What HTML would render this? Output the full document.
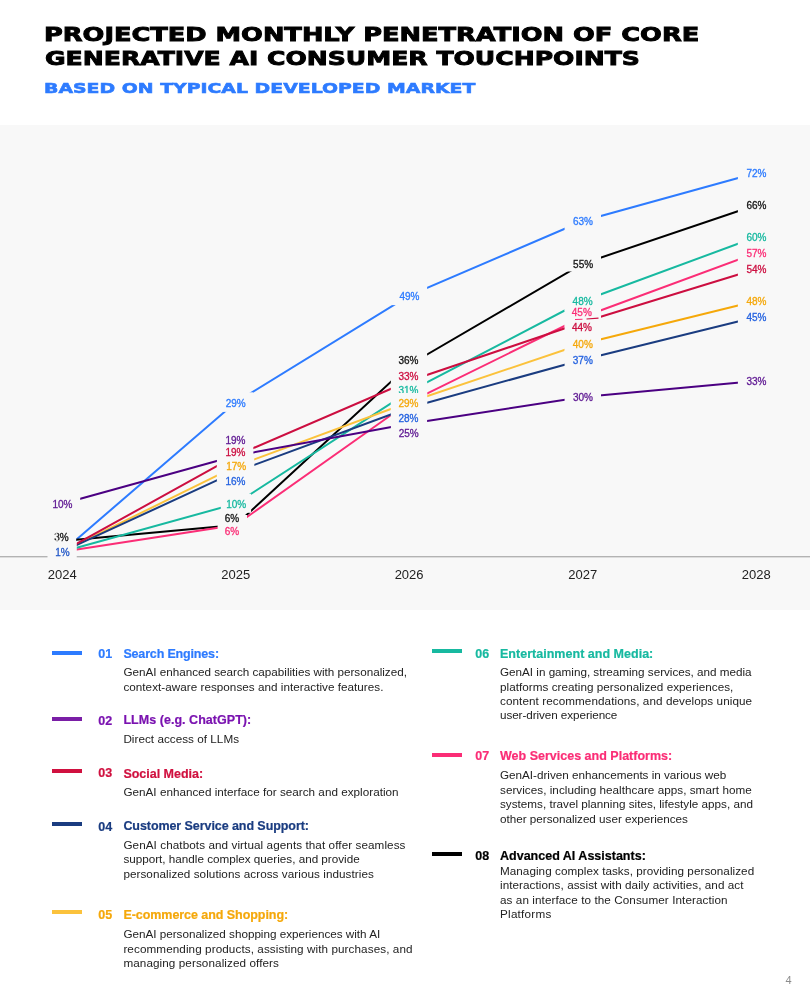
<!DOCTYPE html>
<html lang="en"><head><meta charset="utf-8"><title>Projected monthly penetration of core generative AI consumer touchpoints</title>
<style>
html,body{margin:0;padding:0;background:#fff}
body{width:810px;height:988px;position:relative;overflow:hidden;font-family:"Liberation Sans",sans-serif;color:#222}
.h1{position:absolute;left:46px;font-family:"DejaVu Sans","Liberation Sans",sans-serif;font-weight:bold;font-size:20px;line-height:24px;color:#000;-webkit-text-stroke:0.9px #000;white-space:nowrap;transform-origin:0 50%;margin:0}
.h2{position:absolute;left:46px;font-family:"DejaVu Sans","Liberation Sans",sans-serif;font-weight:bold;font-size:14.7px;line-height:18px;color:#2d7bff;-webkit-text-stroke:0.6px #2d7bff;white-space:nowrap;transform-origin:0 50%;margin:0}
.chart{position:absolute;left:0;top:125px}
.lbl text{font-family:"Liberation Sans",sans-serif;font-size:10px;stroke-width:0.3px;paint-order:stroke}
.yr text{font-family:"Liberation Sans",sans-serif;font-size:13px;fill:#222}
.bar{position:absolute;width:30px;height:4px}
.num,.ttl{position:absolute;font-weight:bold;font-size:12.5px;line-height:16px;white-space:nowrap;letter-spacing:-0.05px;-webkit-text-stroke:0.2px}
.dsc{position:absolute;font-size:11.7px;line-height:14px;white-space:nowrap;color:#222}
.pg{position:absolute;left:785.6px;top:973px;font-size:11px;line-height:14px;color:#8c8c8c}
</style></head><body>
<div class="h1" id="t1" style="left:43.6px;top:23px;transform:translateY(-0.55px) scaleX(1.283)">PROJECTED MONTHLY PENETRATION OF CORE</div>
<div class="h1" id="t2" style="left:44.8px;top:46px;transform:translateY(0.3px) scaleX(1.255)">GENERATIVE AI CONSUMER TOUCHPOINTS</div>
<div class="h2" id="t3" style="left:44px;top:79px;transform:scaleX(1.285)">BASED ON TYPICAL DEVELOPED MARKET</div>
<svg class="chart" width="810" height="485" viewBox="0 125 810 485">
<rect x="0" y="125" width="810" height="485" fill="#f8f8f8"/>
<rect x="0" y="556" width="810" height="1.4" fill="#b3b3b3"/>
<g fill="none" stroke-width="2">
<polyline points="62.3,551.7 235.7,402.3 409.1,295.7 582.8,221.0 756.3,173.0" stroke="#2d7bff"/>
<polyline points="62.3,541.0 235.7,525.0 409.1,365.0 582.8,263.7 756.3,205.0" stroke="#000000"/>
<polyline points="62.3,551.7 235.7,525.0 409.1,402.3 582.8,317.0 756.3,253.0" stroke="#fb2d76"/>
<polyline points="62.3,551.7 235.7,503.7 409.1,391.7 582.8,301.0 756.3,237.0" stroke="#17b9a0"/>
<polyline points="62.3,551.7 235.7,466.3 409.1,402.3 582.8,343.7" stroke="#fbc23c"/>
<polyline points="582.8,343.7 756.3,301.0" stroke="#f5a80a"/>
<polyline points="62.3,551.7 235.7,471.7 409.1,407.7 582.8,359.7 756.3,317.0" stroke="#1a3c80"/>
<polyline points="62.3,551.7 235.7,455.7 409.1,381.0 582.8,322.3 756.3,269.0" stroke="#cc0e40"/>
<polyline points="62.3,503.7 235.7,455.7 409.1,423.7 582.8,397.0 756.3,381.0" stroke="#4b0082"/>
</g>
<g fill="#f8f8f8">
<rect x="47.9" y="541.7" width="28.3" height="20.0"/>
<rect x="217.8" y="392.3" width="35.4" height="19.6"/>
<rect x="390.9" y="285.7" width="36.2" height="19.4"/>
<rect x="564.6" y="211.0" width="36.4" height="20.0"/>
<rect x="737.9" y="163.0" width="37.1" height="20.0"/>
<rect x="47.9" y="531.0" width="28.3" height="20.0"/>
<rect x="217.8" y="515.0" width="29.2" height="20.0"/>
<rect x="390.9" y="353.0" width="36.2" height="21.4"/>
<rect x="564.6" y="253.7" width="36.4" height="17.8"/>
<rect x="737.9" y="195.0" width="37.1" height="20.0"/>
<rect x="47.9" y="541.7" width="28.3" height="20.0"/>
<rect x="217.8" y="515.0" width="29.2" height="20.0"/>
<rect x="390.9" y="392.3" width="36.2" height="19.4"/>
<rect x="564.6" y="307.0" width="36.4" height="20.0"/>
<rect x="737.9" y="243.0" width="37.1" height="20.0"/>
<rect x="47.9" y="541.7" width="28.3" height="20.0"/>
<rect x="220.8" y="493.7" width="30.3" height="19.1"/>
<rect x="390.9" y="381.7" width="36.2" height="19.4"/>
<rect x="564.6" y="291.0" width="36.4" height="20.0"/>
<rect x="737.9" y="227.0" width="37.1" height="20.0"/>
<rect x="47.9" y="541.7" width="28.3" height="20.0"/>
<rect x="216.9" y="456.3" width="37.3" height="20.0"/>
<rect x="390.9" y="392.3" width="36.2" height="19.4"/>
<rect x="564.6" y="333.7" width="36.4" height="20.0"/>
<rect x="737.9" y="291.0" width="37.1" height="20.0"/>
<rect x="47.9" y="541.7" width="28.3" height="20.0"/>
<rect x="216.9" y="461.7" width="37.3" height="20.0"/>
<rect x="390.9" y="397.7" width="36.2" height="19.4"/>
<rect x="564.6" y="349.7" width="36.4" height="20.0"/>
<rect x="737.9" y="307.0" width="37.1" height="20.0"/>
<rect x="47.9" y="541.7" width="28.3" height="20.0"/>
<rect x="217.8" y="445.7" width="35.4" height="19.6"/>
<rect x="390.9" y="371.0" width="36.2" height="19.4"/>
<rect x="564.6" y="312.3" width="36.4" height="20.0"/>
<rect x="737.9" y="259.0" width="37.1" height="20.0"/>
<rect x="44.2" y="493.7" width="36.0" height="20.0"/>
<rect x="217.8" y="445.7" width="35.4" height="19.6"/>
<rect x="390.9" y="413.7" width="36.2" height="19.4"/>
<rect x="564.6" y="387.0" width="36.4" height="20.0"/>
<rect x="737.9" y="371.0" width="37.1" height="20.0"/>
</g>
<line x1="575" y1="319.5" x2="582.5" y2="319.2" stroke="#fb2d76" stroke-width="1.1"/>
<line x1="586.5" y1="319" x2="598.5" y2="318.1" stroke="#cc0e40" stroke-width="1.2"/>
<g class="lbl" text-anchor="middle">
<text x="235.7" y="406.6" fill="#2d7bff" stroke="#2d7bff">29%</text>
<text x="409.4" y="300.1" fill="#2d7bff" stroke="#2d7bff">49%</text>
<text x="583.0" y="224.9" fill="#2d7bff" stroke="#2d7bff">63%</text>
<text x="756.5" y="176.8" fill="#2d7bff" stroke="#2d7bff">72%</text>
<text x="62.4" y="507.9" fill="#5e1792" stroke="#5e1792">10%</text>
<text x="235.4" y="443.9" fill="#5e1792" stroke="#5e1792">19%</text>
<text x="408.7" y="437.4" fill="#5e1792" stroke="#5e1792">25%</text>
<text x="582.9" y="401.1" fill="#5e1792" stroke="#5e1792">30%</text>
<text x="756.5" y="384.6" fill="#5e1792" stroke="#5e1792">33%</text>
<text x="235.4" y="455.9" fill="#cc0e40" stroke="#cc0e40">19%</text>
<text x="408.5" y="379.6" fill="#cc0e40" stroke="#cc0e40">33%</text>
<text x="581.9" y="331.0" fill="#cc0e40" stroke="#cc0e40">44%</text>
<text x="756.5" y="273.0" fill="#cc0e40" stroke="#cc0e40">54%</text>
<text x="62.4" y="555.6" fill="#2459c8" stroke="#2459c8">1%</text>
<text x="235.4" y="484.8" fill="#2462e0" stroke="#2462e0">16%</text>
<text x="408.5" y="421.6" fill="#2462e0" stroke="#2462e0">28%</text>
<text x="582.8" y="363.7" fill="#2462e0" stroke="#2462e0">37%</text>
<text x="756.5" y="320.7" fill="#2462e0" stroke="#2462e0">45%</text>
<text x="236.2" y="470.0" fill="#f5a80a" stroke="#f5a80a">17%</text>
<text x="408.5" y="407.0" fill="#f5a80a" stroke="#f5a80a">29%</text>
<text x="582.8" y="347.7" fill="#f5a80a" stroke="#f5a80a">40%</text>
<text x="756.5" y="304.9" fill="#f5a80a" stroke="#f5a80a">48%</text>
<text x="236.2" y="507.6" fill="#17b9a0" stroke="#17b9a0">10%</text>
<text x="408.5" y="394.0" fill="#17b9a0" stroke="#17b9a0">31%</text>
<rect x="397" y="393" width="24" height="3" fill="#f8f8f8"/>
<text x="582.6" y="304.7" fill="#17b9a0" stroke="#17b9a0">48%</text>
<text x="756.5" y="240.6" fill="#17b9a0" stroke="#17b9a0">60%</text>
<text x="232.0" y="534.6" fill="#fb2d76" stroke="#fb2d76">6%</text>
<text x="581.8" y="316.2" fill="#fb2d76" stroke="#fb2d76">45%</text>
<text x="756.5" y="257.0" fill="#fb2d76" stroke="#fb2d76">57%</text>
<text x="61.4" y="541.1" fill="#141414" stroke="#141414">3%</text>
<text x="56.6" y="541.4" fill="#f8f8f8" stroke="none" opacity="0.8">1</text>
<text x="232.0" y="521.5" fill="#141414" stroke="#141414">6%</text>
<text x="408.5" y="363.9" fill="#141414" stroke="#141414">36%</text>
<text x="583.1" y="267.5" fill="#141414" stroke="#141414">55%</text>
<text x="756.5" y="208.7" fill="#141414" stroke="#141414">66%</text>
</g>
<g class="yr" text-anchor="middle">
<text x="62.3" y="579">2024</text>
<text x="235.7" y="579">2025</text>
<text x="409.1" y="579">2026</text>
<text x="582.8" y="579">2027</text>
<text x="756.3" y="579">2028</text>
</g></svg>
<div class="bar" style="left:52px;top:650.9px;background:#2d7bff"></div>
<div class="num" style="left:98.3px;top:645.97px;color:#2d7bff">01</div>
<div class="ttl" style="left:123.4px;top:645.97px;color:#2d7bff;letter-spacing:-0.163px">Search Engines:</div>
<div class="dsc" style="left:123.4px;top:665.25px;letter-spacing:-0.008px">GenAI enhanced search capabilities with personalized,</div>
<div class="dsc" style="left:123.4px;top:679.65px;letter-spacing:0.031px">context-aware responses and interactive features.</div>
<div class="bar" style="left:52px;top:716.6px;background:#7a1ea6"></div>
<div class="num" style="left:98.3px;top:712.92px;color:#7a12b0">02</div>
<div class="ttl" style="left:123.4px;top:712.17px;color:#7a12b0;letter-spacing:0.04px">LLMs (e.g. ChatGPT):</div>
<div class="dsc" style="left:123.4px;top:732.25px;letter-spacing:0.033px">Direct access of LLMs</div>
<div class="bar" style="left:52px;top:769.4px;background:#d0103f"></div>
<div class="num" style="left:98.3px;top:764.77px;color:#d0103f">03</div>
<div class="ttl" style="left:123.4px;top:765.97px;color:#d0103f;letter-spacing:-0.012px">Social Media:</div>
<div class="dsc" style="left:123.4px;top:785.35px;letter-spacing:0.02px">GenAI enhanced interface for search and exploration</div>
<div class="bar" style="left:52px;top:822.0px;background:#1a3c80"></div>
<div class="num" style="left:98.3px;top:818.67px;color:#1a3c80">04</div>
<div class="ttl" style="left:123.4px;top:817.92px;color:#1a3c80;letter-spacing:-0.071px">Customer Service and Support:</div>
<div class="dsc" style="left:123.4px;top:837.85px;letter-spacing:0.081px">GenAI chatbots and virtual agents that offer seamless</div>
<div class="dsc" style="left:123.4px;top:852.25px;letter-spacing:-0.005px">support, handle complex queries, and provide</div>
<div class="dsc" style="left:123.4px;top:866.65px;letter-spacing:0.062px">personalized solutions across various industries</div>
<div class="bar" style="left:52px;top:910.3px;background:#fbc23c"></div>
<div class="num" style="left:98.3px;top:906.77px;color:#f5a80a">05</div>
<div class="ttl" style="left:123.4px;top:906.77px;color:#f5a80a;letter-spacing:-0.054px">E-commerce and Shopping:</div>
<div class="dsc" style="left:123.4px;top:927.15px;letter-spacing:-0.011px">GenAI personalized shopping experiences with AI</div>
<div class="dsc" style="left:123.4px;top:941.55px;letter-spacing:0.09px">recommending products, assisting with purchases, and</div>
<div class="dsc" style="left:123.4px;top:955.95px;letter-spacing:0.089px">managing personalized offers</div>
<div class="bar" style="left:431.5px;top:648.9px;background:#17b9a0"></div>
<div class="num" style="left:475.3px;top:645.97px;color:#17b9a0">06</div>
<div class="ttl" style="left:500px;top:645.97px;color:#17b9a0;letter-spacing:0.021px">Entertainment and Media:</div>
<div class="dsc" style="left:500px;top:665.25px;letter-spacing:-0.011px">GenAI in gaming, streaming services, and media</div>
<div class="dsc" style="left:500px;top:679.65px;letter-spacing:0.032px">platforms creating personalized experiences,</div>
<div class="dsc" style="left:500px;top:694.05px;letter-spacing:0.075px">content recommendations, and develops unique</div>
<div class="dsc" style="left:500px;top:708.45px;letter-spacing:-0.073px">user-driven experience</div>
<div class="bar" style="left:431.5px;top:752.5px;background:#fb2d76"></div>
<div class="num" style="left:475.3px;top:748.47px;color:#fb2d76">07</div>
<div class="ttl" style="left:500px;top:747.67px;color:#fb2d76;letter-spacing:0.006px">Web Services and Platforms:</div>
<div class="dsc" style="left:500px;top:768.45px;letter-spacing:-0.013px">GenAI-driven enhancements in various web</div>
<div class="dsc" style="left:500px;top:782.85px;letter-spacing:0.036px">services, including healthcare apps, smart home</div>
<div class="dsc" style="left:500px;top:797.25px;letter-spacing:0.004px">systems, travel planning sites, lifestyle apps, and</div>
<div class="dsc" style="left:500px;top:811.65px;letter-spacing:-0.017px">other personalized user experiences</div>
<div class="bar" style="left:431.5px;top:852.3px;background:#000"></div>
<div class="num" style="left:475.3px;top:847.92px;color:#000">08</div>
<div class="ttl" style="left:500px;top:847.92px;color:#000;letter-spacing:0.007px">Advanced AI Assistants:</div>
<div class="dsc" style="left:500px;top:864.05px;letter-spacing:0.046px">Managing complex tasks, providing personalized</div>
<div class="dsc" style="left:500px;top:878.45px;letter-spacing:0.063px">interactions, assist with daily activities, and act</div>
<div class="dsc" style="left:500px;top:892.85px;letter-spacing:0.081px">as an interface to the Consumer Interaction</div>
<div class="dsc" style="left:500px;top:907.25px;letter-spacing:0.244px">Platforms</div>
<div class="pg">4</div>
</body></html>
